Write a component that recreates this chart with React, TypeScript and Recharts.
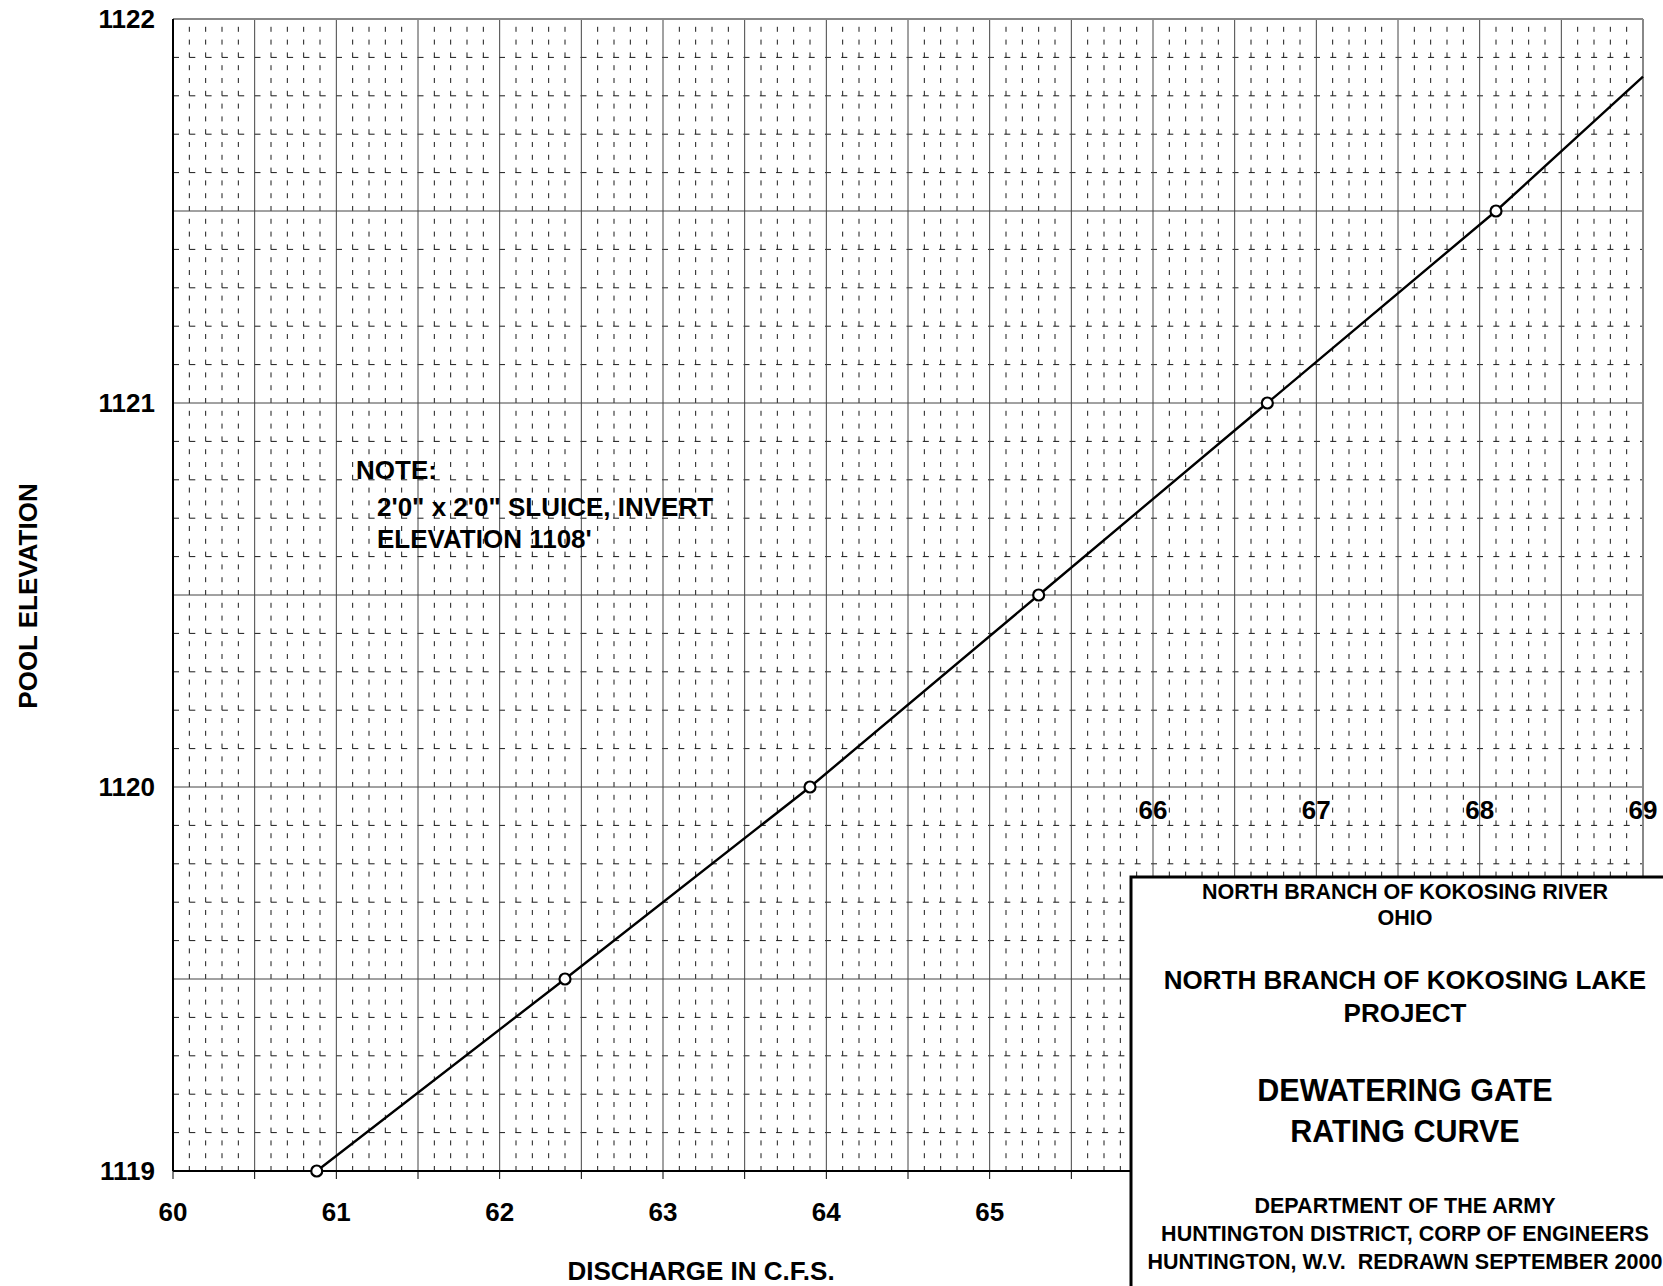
import React from 'react';
import { ComposedChart, Line, XAxis, YAxis, ReferenceLine, Scatter } from 'recharts';

// ---- data ----
const discharge = [60.88, 62.4, 63.9, 65.3, 66.7, 68.1, 69.0];
const elevation = [1119.0, 1119.5, 1120.0, 1120.5, 1121.0, 1121.5, 1121.85];
const hasMarker = [true, true, true, true, true, true, false];

const xTicks = [60, 60.5, 61, 61.5, 62, 62.5, 63, 63.5, 64, 64.5, 65, 65.5, 66, 66.5, 67, 67.5, 68, 68.5, 69];
const xLabelledTicks = [60, 61, 62, 63, 64, 65];
const yTicks = [1119, 1120, 1121, 1122];
const insideTickLabels = ['66', '67', '68', '69'];
const insideTickValues = [66, 67, 68, 69];
const insideTickElevation = 1119.94;

const xDomain: [number, number] = [60, 69];
const yDomain: [number, number] = [1119, 1122];

const titleLines = [
  'NORTH BRANCH OF KOKOSING RIVER',
  'OHIO',
  'NORTH BRANCH OF KOKOSING LAKE',
  'PROJECT',
  'DEWATERING GATE',
  'RATING CURVE',
  'DEPARTMENT OF THE ARMY',
  'HUNTINGTON DISTRICT, CORP OF ENGINEERS',
  'HUNTINGTON, W.V.  REDRAWN SEPTEMBER 2000',
];
const noteLines = ['NOTE:', '2\'0" x 2\'0" SLUICE, INVERT', "ELEVATION 1108'"];

// ---- derived tables ----
const curveData = discharge.map((x, i) => ({ x, y: elevation[i], marker: hasMarker[i] }));
const insideLabelData = insideTickValues.map((x, i) => ({ x, y: insideTickElevation, label: insideTickLabels[i] }));

const round = (v: number) => Math.round(v * 1000) / 1000;
const xMinor: number[] = [];
const xMajor: number[] = [];
for (let i = 1; i < 90; i++) {
  const v = round(60 + i * 0.1);
  if (i % 5 === 0) xMajor.push(v); else xMinor.push(v);
}
const yMinor: number[] = [];
const yMajor: number[] = [];
for (let i = 1; i < 30; i++) {
  const v = round(1119 + i * 0.1);
  if (i % 5 === 0) yMajor.push(v); else yMinor.push(v);
}

const FONT = '"Liberation Sans", Arial, Helvetica, sans-serif';

const MarkerDot = (props: any) => {
  const { cx, cy, payload, index } = props;
  if (!payload || !payload.marker) return <g key={`d${index}`} />;
  return <circle key={`d${index}`} cx={cx} cy={cy} r={5.5} fill="#fff" stroke="#000" strokeWidth={2.2} />;
};

const InsideLabel = (props: any) => {
  const { cx, cy, payload } = props;
  return (
    <text x={cx} y={cy} textAnchor="middle" dominantBaseline="central" fontFamily={FONT} fontWeight="bold" fontSize={26} fill="#000">
      {payload.label}
    </text>
  );
};

export default function App() {
  const W = 1663;
  const H = 1286;
  return (
    <div style={{ position: 'absolute', left: 0, top: 0, width: W, height: H, overflow: 'hidden', background: '#fff' }}>
      <ComposedChart width={W} height={H} data={curveData} margin={{ top: 19, right: 20, left: 0, bottom: 0 }}>
        <XAxis
          dataKey="x"
          type="number"
          domain={xDomain}
          ticks={xTicks}
          interval={0}
          height={115}
          tickFormatter={(v: number) => (xLabelledTicks.includes(v) ? String(v) : '')}
          tick={{ fontSize: 26, fontWeight: 'bold', fill: '#000', fontFamily: FONT }}
          tickSize={8}
          tickMargin={24}
          tickLine={{ stroke: '#000', strokeWidth: 1 }}
          axisLine={{ stroke: '#000', strokeWidth: 2 }}
          label={{
            content: () => (
              <text x={701} y={1271} textAnchor="middle" dominantBaseline="central" fontFamily={FONT} fontWeight="bold" fontSize={26} fill="#000">
                DISCHARGE IN C.F.S.
              </text>
            ),
          }}
        />
        <YAxis
          type="number"
          domain={yDomain}
          ticks={yTicks}
          interval={0}
          width={173}
          tick={{ fontSize: 26, fontWeight: 'bold', fill: '#000', fontFamily: FONT }}
          tickLine={false}
          tickSize={0}
          tickMargin={18}
          axisLine={{ stroke: '#000', strokeWidth: 2 }}
          label={{
            content: () => (
              <text x={28} y={596} transform="rotate(-90 28 596)" textAnchor="middle" dominantBaseline="central" fontFamily={FONT} fontWeight="bold" fontSize={26} fill="#000">
                POOL ELEVATION
              </text>
            ),
          }}
        />
        {xMinor.map((v) => (
          <ReferenceLine key={`xm${v}`} x={v} stroke="#1a1a1a" strokeWidth={1} strokeDasharray="5 7.8" />
        ))}
        {yMinor.map((v) => (
          <ReferenceLine key={`ym${v}`} y={v} stroke="#1a1a1a" strokeWidth={1} strokeDasharray="6 10.3" />
        ))}
        {xMajor.map((v) => (
          <ReferenceLine key={`xM${v}`} x={v} stroke="#444" strokeWidth={1} />
        ))}
        {yMajor.map((v) => (
          <ReferenceLine key={`yM${v}`} y={v} stroke="#444" strokeWidth={1} />
        ))}
        <ReferenceLine y={1122} stroke="#888" strokeWidth={2} />
        <ReferenceLine x={69} stroke="#888" strokeWidth={2} />
        <Scatter data={insideLabelData} dataKey="y" shape={InsideLabel} isAnimationActive={false} />
        <Line
          dataKey="y"
          type="linear"
          stroke="#000"
          strokeWidth={2.4}
          dot={MarkerDot}
          activeDot={false}
          isAnimationActive={false}
        />
      </ComposedChart>
      <svg width={W} height={H} style={{ position: 'absolute', left: 0, top: 0, pointerEvents: 'none' }}>
        <g fontFamily={FONT} fontWeight="bold" fill="#000">
          <text x={356} y={470} fontSize={26} dominantBaseline="central">{noteLines[0]}</text>
          <text x={377} y={507} fontSize={26} dominantBaseline="central">{noteLines[1]}</text>
          <text x={377} y={539} fontSize={26} dominantBaseline="central">{noteLines[2]}</text>
        </g>
        <rect x={1131} y={877} width={600} height={500} fill="#fff" stroke="#000" strokeWidth={3} />
        <g fontFamily={FONT} fontWeight="bold" fill="#000" textAnchor="middle" style={{ whiteSpace: 'pre' }}>
          <text x={1405} y={892} fontSize={21.5} dominantBaseline="central">{titleLines[0]}</text>
          <text x={1405} y={918} fontSize={21.5} dominantBaseline="central">{titleLines[1]}</text>
          <text x={1405} y={980} fontSize={26} dominantBaseline="central">{titleLines[2]}</text>
          <text x={1405} y={1013} fontSize={26} dominantBaseline="central">{titleLines[3]}</text>
          <text x={1405} y={1090} fontSize={30.5} dominantBaseline="central">{titleLines[4]}</text>
          <text x={1405} y={1131} fontSize={30.5} dominantBaseline="central">{titleLines[5]}</text>
          <text x={1405} y={1206} fontSize={21.5} dominantBaseline="central">{titleLines[6]}</text>
          <text x={1405} y={1234} fontSize={21.5} dominantBaseline="central">{titleLines[7]}</text>
          <text x={1405} y={1262} fontSize={21.5} dominantBaseline="central" xmlSpace="preserve">{titleLines[8]}</text>
        </g>
      </svg>
    </div>
  );
}
